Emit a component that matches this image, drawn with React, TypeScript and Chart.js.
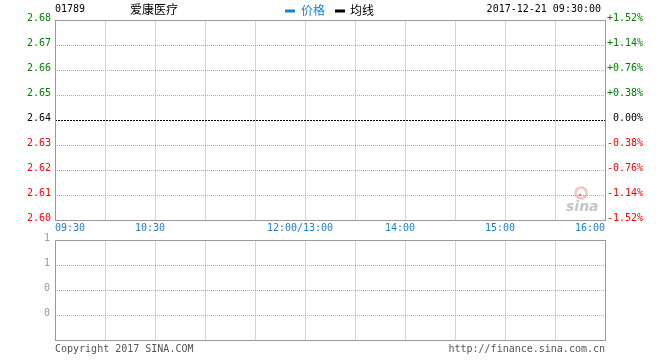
import React, { useEffect, useRef } from 'react';
import { Chart, registerables } from 'chart.js';

Chart.register(...registerables);

// ---- data ----
const STOCK_CODE = '01789';
const STOCK_NAME = '爱康医疗';
const QUOTE_TIME = '2017-12-21 09:30:00';
const LEGEND_LABELS = ['价格', '均线'];
const PREV_CLOSE = 2.64;
const PRICE_TICKS = [2.6, 2.61, 2.62, 2.63, 2.64, 2.65, 2.66, 2.67, 2.68];
const PCT_TICK_LABELS = ['-1.52%', '-1.14%', '-0.76%', '-0.38%', '0.00%', '+0.38%', '+0.76%', '+1.14%', '+1.52%'];
const GRID_MINUTES = [0, 30, 60, 90, 120, 150, 180, 210, 240, 270, 300, 330];
const TIME_TICK_MINUTES = [0, 60, 150, 210, 270, 330];
const TIME_TICK_LABELS = ['09:30', '10:30', '12:00/13:00', '14:00', '15:00', '16:00'];
const PRICE_MINUTES: number[] = [];
const PRICE_VALUES: number[] = [];
const AVG_VALUES: number[] = [];
const REF_MINUTES = [0, 330];
const REF_VALUES = [2.64, 2.64];
const VOLUME_TICKS = [0, 0.25, 0.5, 0.75, 1];
const VOLUME_TICK_LABELS = ['', '0', '0', '1', '1'];
const VOLUME_MINUTES: number[] = [];
const VOLUME_VALUES: number[] = [];
const COPYRIGHT = 'Copyright 2017 SINA.COM';
const SOURCE_URL = 'http://finance.sina.com.cn';

// ---- styles ----
const MONO = "'DejaVu Sans Mono', 'Liberation Mono', monospace";
const CJK = "'Noto Sans CJK SC', sans-serif";
const BLUE = '#1a7fd0';
const GREEN = '#008000';
const RED = '#ff0000';
const GRID = '#aaaaaa';
const FRAME = '#999999';

const W = 660;
const H1 = 236;
const TOP2 = 224;
const H2 = 360 - TOP2;

const framePlugin = {
  id: 'frame',
  afterDraw(chart: any) {
    const { ctx, chartArea: a } = chart;
    const l = Math.floor(a.left) + 0.5;
    const r = Math.floor(a.right) + 0.5;
    const t = Math.floor(a.top) + 0.5;
    const b = Math.floor(a.bottom) + 0.5;
    ctx.save();
    ctx.strokeStyle = FRAME;
    ctx.lineWidth = 1;
    ctx.setLineDash([]);
    ctx.strokeRect(l, t, r - l, b - t);
    ctx.restore();
  },
};

const headerPlugin = {
  id: 'header',
  beforeDatasetsDraw(chart: any) {
    const { ctx } = chart;
    // watermark
    ctx.save();
    ctx.strokeStyle = 'rgba(240,120,120,0.45)';
    ctx.lineWidth = 2.5;
    ctx.beginPath();
    ctx.arc(581, 193, 5.5, 0, Math.PI * 2);
    ctx.stroke();
    ctx.fillStyle = 'rgba(110,110,110,0.6)';
    ctx.beginPath();
    ctx.arc(580, 195, 1.6, 0, Math.PI * 2);
    ctx.fill();
    ctx.fillStyle = 'rgba(150,150,150,0.55)';
    ctx.font = "italic bold 14px 'DejaVu Sans', sans-serif";
    ctx.textAlign = 'left';
    ctx.textBaseline = 'alphabetic';
    ctx.fillText('sina', 566, 211);
    ctx.restore();
  },
  afterDraw(chart: any) {
    const { ctx, scales } = chart;
    ctx.save();
    ctx.textBaseline = 'middle';
    // header
    ctx.fillStyle = '#000';
    ctx.font = `10px ${MONO}`;
    ctx.textAlign = 'left';
    ctx.fillText(STOCK_CODE, 55, 9);
    ctx.font = `12px ${CJK}`;
    ctx.fillText(STOCK_NAME, 130, 9);
    // legend
    ctx.fillStyle = BLUE;
    ctx.fillRect(285, 9.5, 10, 3);
    ctx.fillText(LEGEND_LABELS[0], 301, 10);
    ctx.fillStyle = '#000';
    ctx.fillRect(335, 9.5, 10, 3);
    ctx.fillText(LEGEND_LABELS[1], 350, 10);
    // time
    ctx.font = `10px ${MONO}`;
    ctx.textAlign = 'right';
    ctx.fillText(QUOTE_TIME, 601, 9);
    // x labels
    const xs = scales.x;
    ctx.fillStyle = BLUE;
    TIME_TICK_MINUTES.forEach((m, i) => {
      const px = xs.getPixelForValue(m);
      if (i === 0) {
        ctx.textAlign = 'left';
        ctx.fillText(TIME_TICK_LABELS[i], px, 228);
      } else if (i === TIME_TICK_MINUTES.length - 1) {
        ctx.textAlign = 'right';
        ctx.fillText(TIME_TICK_LABELS[i], px, 228);
      } else {
        ctx.textAlign = 'center';
        ctx.fillText(TIME_TICK_LABELS[i], px - 5, 228);
      }
    });
    ctx.restore();
  },
};

const footerPlugin = {
  id: 'footer',
  afterDraw(chart: any) {
    const { ctx } = chart;
    ctx.save();
    ctx.textBaseline = 'middle';
    ctx.fillStyle = '#555';
    ctx.font = `10px ${MONO}`;
    ctx.textAlign = 'left';
    ctx.fillText(COPYRIGHT, 55, 349.5 - TOP2);
    ctx.textAlign = 'right';
    ctx.fillText(SOURCE_URL, 605, 349.5 - TOP2);
    ctx.restore();
  },
};

const priceColor = (v: number) =>
  v > PREV_CLOSE + 1e-9 ? GREEN : v < PREV_CLOSE - 1e-9 ? RED : '#000';

export default function App() {
  const ref1 = useRef<HTMLCanvasElement>(null);
  const ref2 = useRef<HTMLCanvasElement>(null);

  useEffect(() => {
    const xScale = (height: number) => ({
      type: 'linear' as const,
      min: 0,
      max: 330,
      offset: false,
      afterBuildTicks: (s: any) => {
        s.ticks = GRID_MINUTES.map((v) => ({ value: v }));
      },
      afterFit: (s: any) => {
        s.height = height;
      },
      ticks: { display: false },
      grid: { color: GRID, lineWidth: 1, drawTicks: false, offset: false },
      border: { display: false, dash: [1, 1] },
    });

    const c1 = new Chart(ref1.current!, {
      type: 'line',
      data: {
        datasets: [
          {
            label: LEGEND_LABELS[0],
            data: PRICE_MINUTES.map((m, i) => ({ x: m, y: PRICE_VALUES[i] })),
            borderColor: BLUE,
            borderWidth: 1,
            pointRadius: 0,
          },
          {
            label: LEGEND_LABELS[1],
            data: PRICE_MINUTES.map((m, i) => ({ x: m, y: AVG_VALUES[i] })),
            borderColor: '#000',
            borderWidth: 1,
            pointRadius: 0,
          },
          {
            label: 'prev',
            data: REF_MINUTES.map((m, i) => ({ x: m, y: REF_VALUES[i] })),
            borderColor: '#000',
            borderWidth: 1,
            borderDash: [2, 1],
            pointRadius: 0,
          },
        ],
      },
      options: {
        animation: false,
        responsive: false,
        maintainAspectRatio: false,
        layout: { padding: { top: 20.5, left: 0, right: 17, bottom: 0 } },
        plugins: { legend: { display: false }, tooltip: { enabled: false } },
        scales: {
          x: xScale(H1 - 220.5),
          y: {
            type: 'linear',
            position: 'left',
            min: 2.6,
            max: 2.68,
            afterBuildTicks: (s: any) => {
              s.ticks = PRICE_TICKS.map((v) => ({ value: v }));
            },
            afterFit: (s: any) => {
              s.width = 55;
            },
            ticks: {
              padding: 4,
              labelOffset: -2,
              font: { family: MONO, size: 10 },
              color: (c: any) => priceColor(c.tick.value),
              callback: (v: any) => Number(v).toFixed(2),
            },
            grid: {
              drawTicks: false,
              color: (c: any) =>
                Math.abs(c.tick.value - PREV_CLOSE) < 1e-9 ? 'rgba(0,0,0,0)' : GRID,
            },
            border: { display: false, dash: [1, 1] },
          },
          y2: {
            type: 'linear',
            position: 'right',
            min: 2.6,
            max: 2.68,
            afterBuildTicks: (s: any) => {
              s.ticks = PRICE_TICKS.map((v) => ({ value: v }));
            },
            afterFit: (s: any) => {
              s.width = 38;
            },
            ticks: {
              padding: 2,
              crossAlign: 'far',
              labelOffset: -2,
              font: { family: MONO, size: 10 },
              color: (c: any) => priceColor(c.tick.value),
              callback: (_v: any, i: number) => PCT_TICK_LABELS[i],
            },
            grid: { drawOnChartArea: false, drawTicks: false },
            border: { display: false },
          },
        },
      },
      plugins: [headerPlugin, framePlugin],
    } as any);

    const c2 = new Chart(ref2.current!, {
      type: 'bar',
      data: {
        datasets: [
          {
            label: 'volume',
            data: VOLUME_MINUTES.map((m, i) => ({ x: m, y: VOLUME_VALUES[i] })),
            backgroundColor: BLUE,
          },
        ],
      },
      options: {
        animation: false,
        responsive: false,
        maintainAspectRatio: false,
        layout: { padding: { top: 240.5 - TOP2, left: 0, right: 55, bottom: 0 } },
        plugins: { legend: { display: false }, tooltip: { enabled: false } },
        scales: {
          x: xScale(H2 - (340.5 - TOP2)),
          y: {
            type: 'linear',
            position: 'left',
            min: 0,
            max: 1,
            afterBuildTicks: (s: any) => {
              s.ticks = VOLUME_TICKS.map((v) => ({ value: v }));
            },
            afterFit: (s: any) => {
              s.width = 55;
            },
            ticks: {
              padding: 5,
              labelOffset: -2,
              font: { family: MONO, size: 10 },
              color: '#999999',
              callback: (_v: any, i: number) => VOLUME_TICK_LABELS[i],
            },
            grid: { drawTicks: false, color: GRID },
            border: { display: false, dash: [1, 1] },
          },
        },
      },
      plugins: [footerPlugin, framePlugin],
    } as any);

    return () => {
      c1.destroy();
      c2.destroy();
    };
  }, []);

  return (
    <div style={{ position: 'fixed', left: 0, top: 0, width: W, height: 360, background: '#fff' }}>
      <canvas
        ref={ref1}
        width={W}
        height={H1}
        style={{ position: 'absolute', left: 0, top: 0, width: W, height: H1, display: 'block' }}
      />
      <canvas
        ref={ref2}
        width={W}
        height={H2}
        style={{ position: 'absolute', left: 0, top: TOP2, width: W, height: H2, display: 'block' }}
      />
    </div>
  );
}
